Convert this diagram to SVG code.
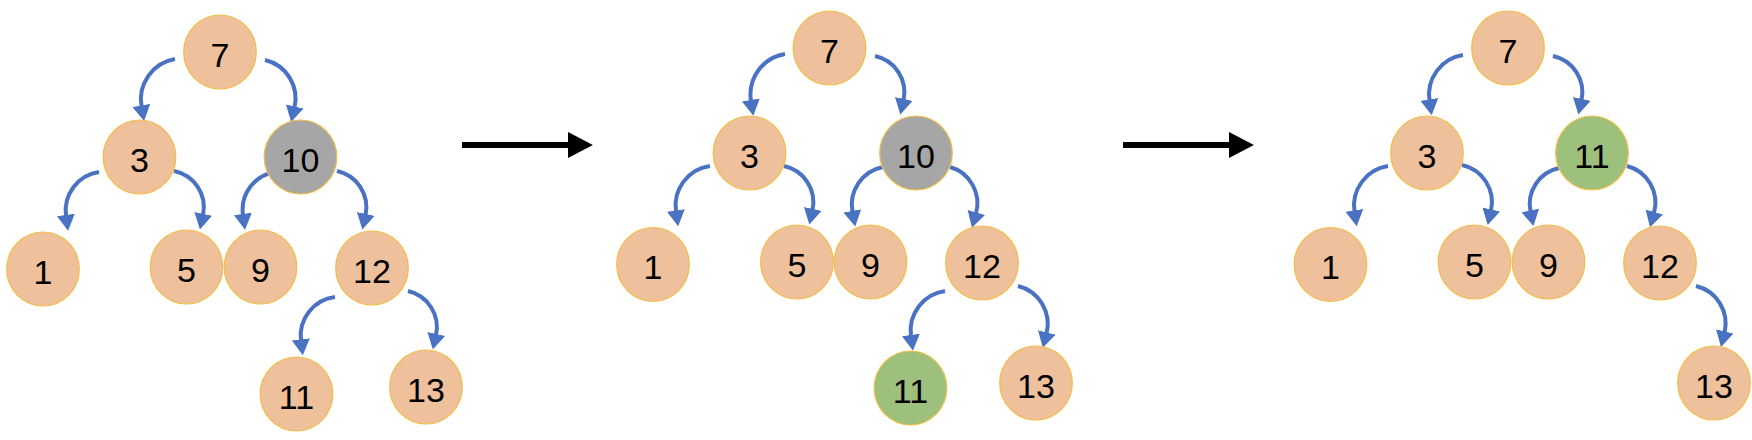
<svg xmlns="http://www.w3.org/2000/svg" width="1752" height="440" viewBox="0 0 1752 440">
<defs>
<style>
.n ellipse{stroke:#F2BE45;stroke-width:1.2}
.p ellipse{fill:#EEC09C}
.g ellipse{fill:#A6A6A6}
.v ellipse{fill:#9DC07C}
.n text{font-family:"Liberation Sans",Arial,sans-serif;font-size:34px;fill:#000;text-anchor:middle}
.c path{fill:none;stroke:#4A72C2;stroke-width:4;marker-end:url(#ah)}
.big line{stroke:#000;stroke-width:6;marker-end:url(#bh)}
</style>
<marker id="ah" markerUnits="userSpaceOnUse" markerWidth="16" markerHeight="18" viewBox="0 0 15 17" refX="1" refY="8.5" orient="auto">
<path d="M0,0 L15,8.5 L0,17 Z" fill="#4A72C2"/>
</marker>
<marker id="bh" markerUnits="userSpaceOnUse" markerWidth="25" markerHeight="26" viewBox="0 0 24 25" refX="1" refY="12.5" orient="auto">
<path d="M0,0 L24,12.5 L0,25 Z" fill="#000"/>
</marker>
</defs>
<rect width="1752" height="440" fill="#fff"/>

<g id="connectors" class="c">
<!-- tree 1 -->
<path d="M175,59 A41,41 0 0 0 141.5,106.5"/>
<path d="M265,60 A39.5,39.5 0 0 1 294.5,107.5"/>
<path d="M99,172 A39,39 0 0 0 66,216"/>
<path d="M174,171 A37,37 0 0 1 203,215"/>
<path d="M276,172 A38,38 0 0 0 243,215"/>
<path d="M337,171 A37,37 0 0 1 365.5,215"/>
<path d="M335,297 A39,39 0 0 0 301,340.5"/>
<path d="M408,291 A37,37 0 0 1 436,335"/>
<!-- tree 2 -->
<path d="M785,54 A41,41 0 0 0 751,101"/>
<path d="M875,56 A37,37 0 0 1 903.5,100"/>
<path d="M710,166 A40,40 0 0 0 676,211.5"/>
<path d="M784,166 A37,37 0 0 1 812.5,210"/>
<path d="M883,167 A38.5,38.5 0 0 0 852.5,212"/>
<path d="M950,167 A37.7,37.7 0 0 1 976,213.5"/>
<path d="M945,291 A40,40 0 0 0 911,336"/>
<path d="M1018,286 A39,39 0 0 1 1046.5,333.5"/>
<!-- tree 3 -->
<path d="M1463,55 A40,40 0 0 0 1429.5,100.5"/>
<path d="M1553,56 A37,37 0 0 1 1581.5,100"/>
<path d="M1388,166 A40,40 0 0 0 1354.5,211.5"/>
<path d="M1462,165 A38,38 0 0 1 1491,210.5"/>
<path d="M1559,168 A37,37 0 0 0 1530.5,211.5"/>
<path d="M1627,166 A38,38 0 0 1 1654,213"/>
<path d="M1696,286 A38.5,38.5 0 0 1 1724.5,332.5"/>
</g>

<g id="steps" class="big">
<line x1="462" y1="145" x2="569" y2="145"/>
<line x1="1123" y1="145" x2="1230" y2="145"/>
</g>

<!-- tree 1 -->
<g id="t1-n7" class="n p"><ellipse cx="220" cy="52" rx="36.3" ry="37"/><text x="220" y="66.5">7</text></g>
<g id="t1-n3" class="n p"><ellipse cx="139.5" cy="157" rx="36.3" ry="37"/><text x="139.5" y="171.5">3</text></g>
<g id="t1-n10" class="n g"><ellipse cx="300.5" cy="157" rx="36.3" ry="37"/><text x="300.5" y="171.5">10</text></g>
<g id="t1-n1" class="n p"><ellipse cx="43" cy="269" rx="36.3" ry="37"/><text x="43" y="283.5">1</text></g>
<g id="t1-n5" class="n p"><ellipse cx="186.5" cy="267" rx="36.3" ry="37"/><text x="186.5" y="281.5">5</text></g>
<g id="t1-n9" class="n p"><ellipse cx="260.5" cy="267" rx="36.3" ry="37"/><text x="260.5" y="281.5">9</text></g>
<g id="t1-n12" class="n p"><ellipse cx="372" cy="268" rx="36.3" ry="37"/><text x="372" y="282.5">12</text></g>
<g id="t1-n11" class="n p"><ellipse cx="296.5" cy="394" rx="36.3" ry="37"/><text x="296.5" y="408.5">11</text></g>
<g id="t1-n13" class="n p"><ellipse cx="426" cy="387" rx="36.3" ry="37"/><text x="426" y="401.5">13</text></g>

<!-- tree 2 -->
<g id="t2-n7" class="n p"><ellipse cx="829.5" cy="48" rx="36.3" ry="37"/><text x="829.5" y="62.5">7</text></g>
<g id="t2-n3" class="n p"><ellipse cx="749.5" cy="153" rx="36.3" ry="37"/><text x="749.5" y="167.5">3</text></g>
<g id="t2-n10" class="n g"><ellipse cx="916" cy="153" rx="36.3" ry="37"/><text x="916" y="167.5">10</text></g>
<g id="t2-n1" class="n p"><ellipse cx="653" cy="264.5" rx="36.3" ry="37"/><text x="653" y="279">1</text></g>
<g id="t2-n5" class="n p"><ellipse cx="797" cy="262" rx="36.3" ry="37"/><text x="797" y="276.5">5</text></g>
<g id="t2-n9" class="n p"><ellipse cx="870.5" cy="262" rx="36.3" ry="37"/><text x="870.5" y="276.5">9</text></g>
<g id="t2-n12" class="n p"><ellipse cx="982" cy="263" rx="36.3" ry="37"/><text x="982" y="277.5">12</text></g>
<g id="t2-n11" class="n v"><ellipse cx="910.5" cy="388" rx="36.3" ry="37"/><text x="910.5" y="402.5">11</text></g>
<g id="t2-n13" class="n p"><ellipse cx="1036" cy="383" rx="36.3" ry="37"/><text x="1036" y="397.5">13</text></g>

<!-- tree 3 -->
<g id="t3-n7" class="n p"><ellipse cx="1508" cy="48" rx="36.3" ry="37"/><text x="1508" y="62.5">7</text></g>
<g id="t3-n3" class="n p"><ellipse cx="1427" cy="153" rx="36.3" ry="37"/><text x="1427" y="167.5">3</text></g>
<g id="t3-n11" class="n v"><ellipse cx="1592" cy="153" rx="36.3" ry="37"/><text x="1592" y="167.5">11</text></g>
<g id="t3-n1" class="n p"><ellipse cx="1330.5" cy="264.5" rx="36.3" ry="37"/><text x="1330.5" y="279">1</text></g>
<g id="t3-n5" class="n p"><ellipse cx="1474.5" cy="262" rx="36.3" ry="37"/><text x="1474.5" y="276.5">5</text></g>
<g id="t3-n9" class="n p"><ellipse cx="1548.5" cy="262" rx="36.3" ry="37"/><text x="1548.5" y="276.5">9</text></g>
<g id="t3-n12" class="n p"><ellipse cx="1660" cy="263" rx="36.3" ry="37"/><text x="1660" y="277.5">12</text></g>
<g id="t3-n13" class="n p"><ellipse cx="1714" cy="383" rx="36.3" ry="37"/><text x="1714" y="397.5">13</text></g>
</svg>
